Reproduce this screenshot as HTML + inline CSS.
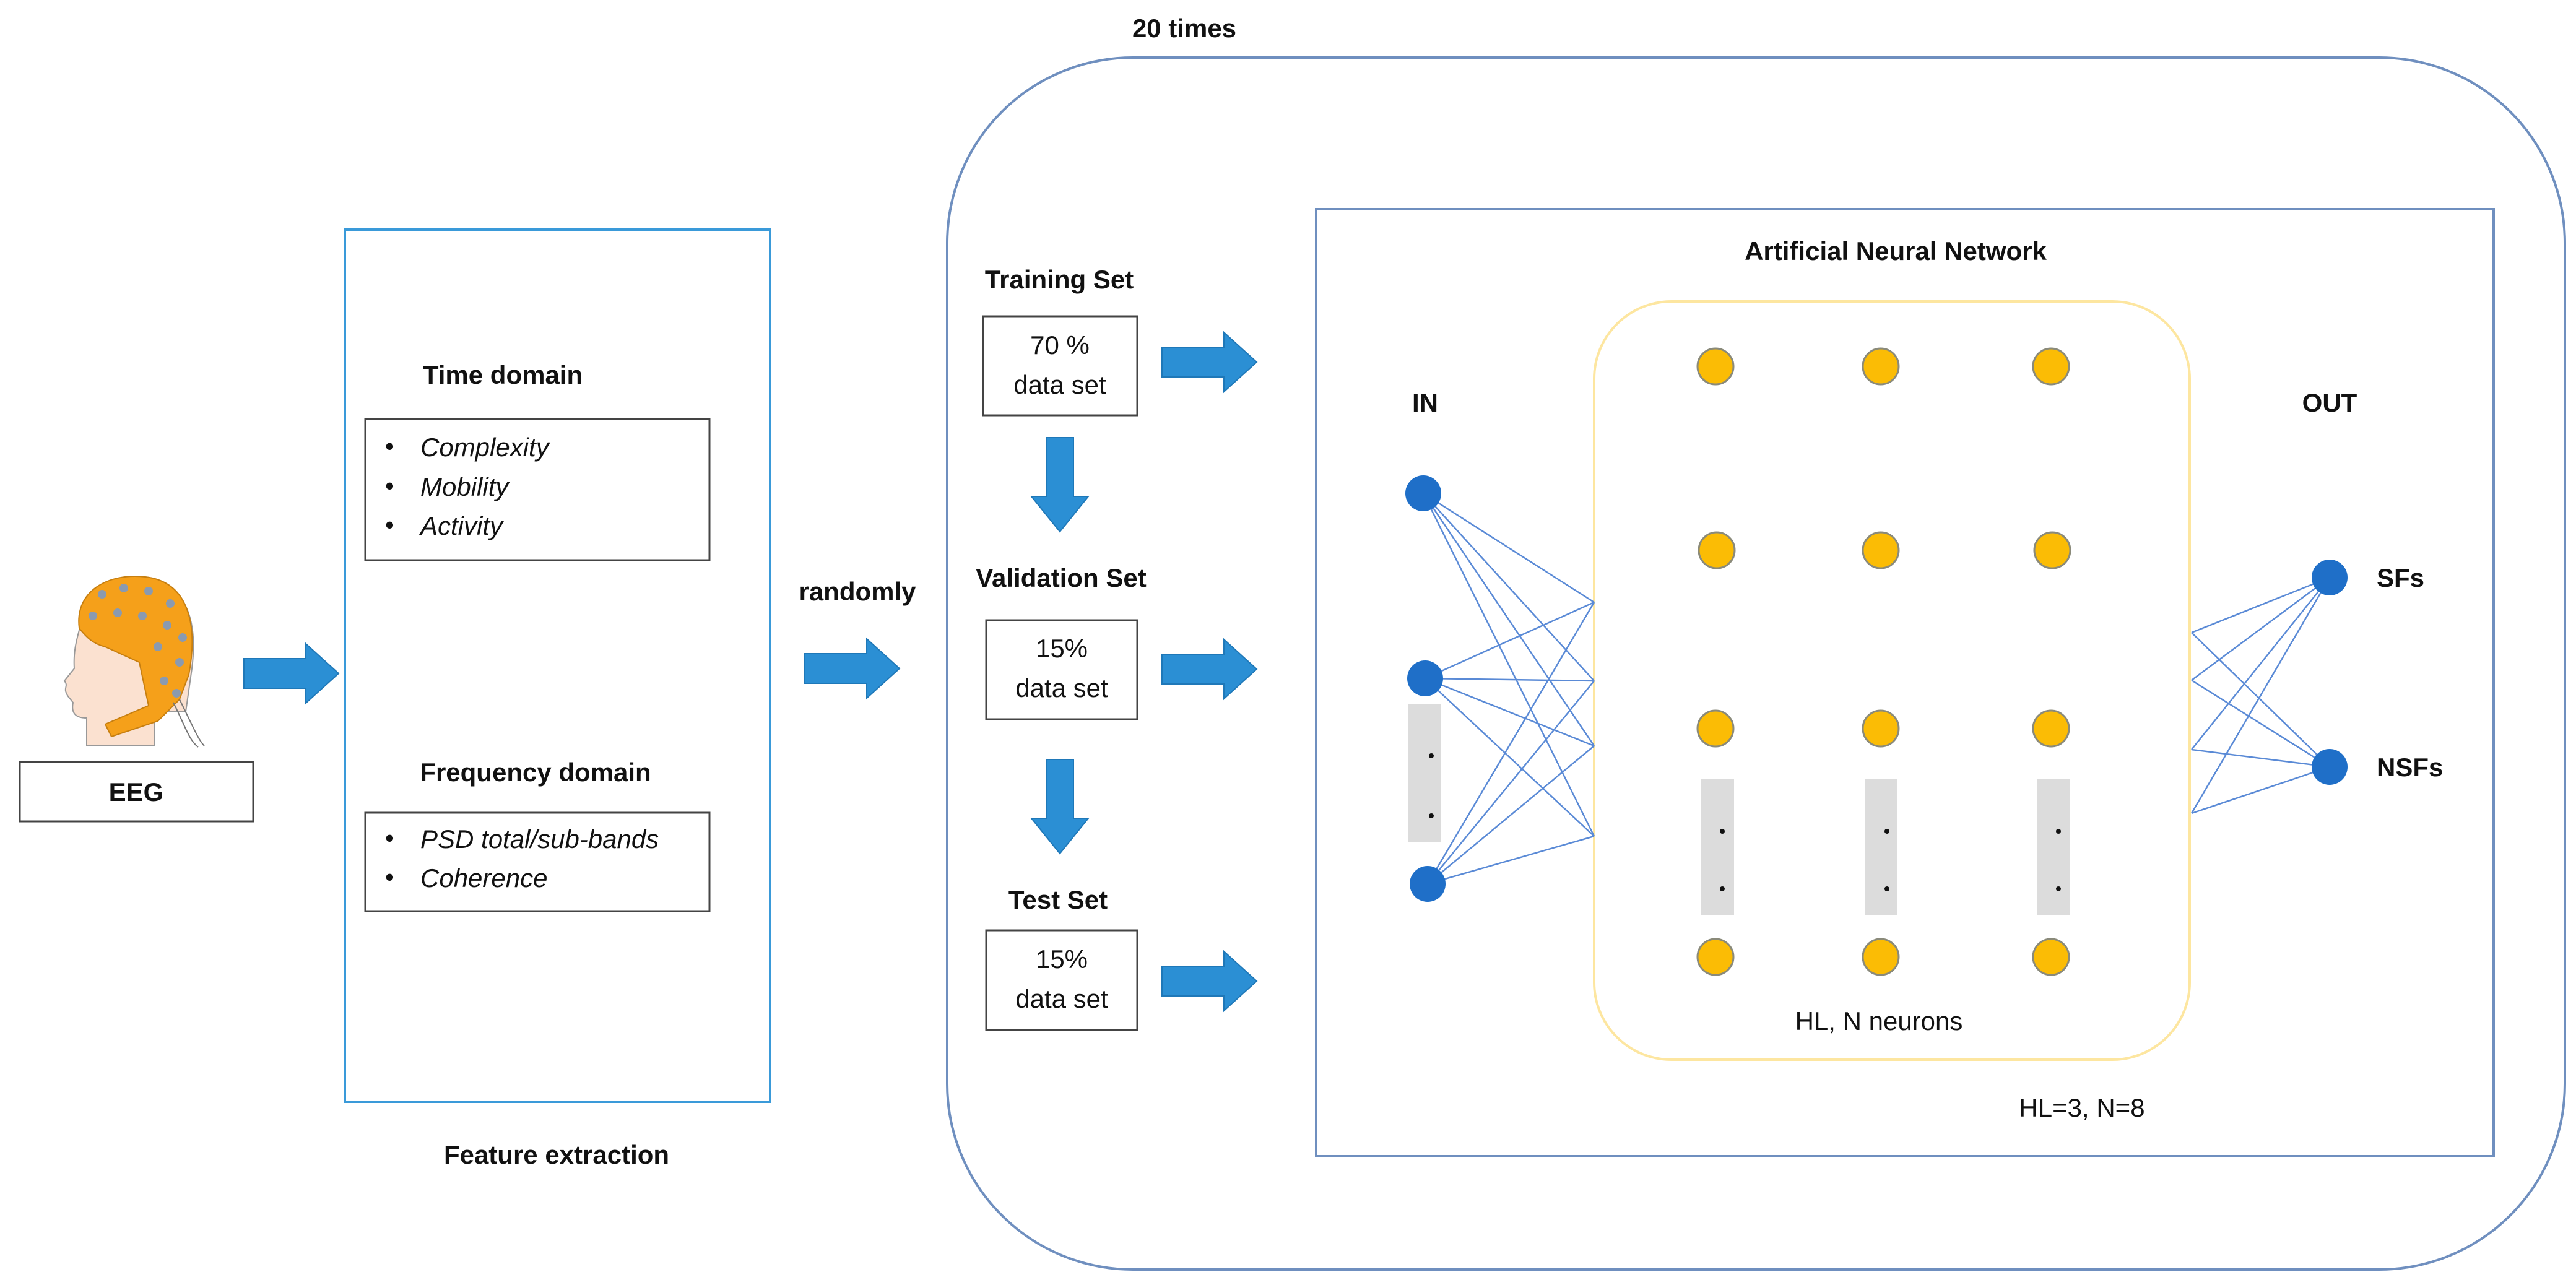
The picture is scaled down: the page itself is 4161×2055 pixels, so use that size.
<!DOCTYPE html>
<html><head><meta charset="utf-8"><style>
html,body{margin:0;padding:0;background:#fff;}
svg{display:block;}
text{font-family:"Liberation Sans",sans-serif;fill:#111;}
.b{font-weight:bold;font-size:42px;}
.n{font-size:42px;}
.i{font-style:italic;font-size:42px;}
</style></head><body>
<svg width="4161" height="2055" viewBox="0 0 4161 2055" xmlns="http://www.w3.org/2000/svg">
<defs>
<g id="ra"><polygon points="0,-24 100,-24 100,-48 153,0 100,48 100,24 0,24" fill="#2b8fd4" stroke="#1f78b8" stroke-width="2"/></g>
<g id="da"><polygon points="-22,0 22,0 22,95 46,95 0,152 -46,95 -22,95" fill="#2b8fd4" stroke="#1f78b8" stroke-width="2"/></g>
</defs>

<!-- head -->
<g>
<path d="M130,1010 C120,960 170,930 230,935 C300,940 320,1000 310,1080 L300,1150 L250,1150 L250,1205 L140,1205 L140,1160 C120,1160 115,1150 118,1135 L110,1125 C100,1110 112,1110 104,1100 L120,1080 C118,1050 125,1030 130,1010 Z" fill="#fbe1d0" stroke="#999" stroke-width="2"/>
<path d="M128,1015 C120,955 175,925 235,932 C305,940 320,1010 305,1090 L290,1130 L255,1165 L180,1190 L170,1170 L240,1140 L225,1070 L170,1045 C150,1040 140,1030 128,1015 Z" fill="#f5a01a" stroke="#c77f10" stroke-width="2"/>
<g fill="#8a9ab0">
<circle cx="165" cy="960" r="7"/><circle cx="200" cy="950" r="7"/><circle cx="240" cy="955" r="7"/><circle cx="275" cy="975" r="7"/>
<circle cx="150" cy="995" r="7"/><circle cx="190" cy="990" r="7"/><circle cx="230" cy="995" r="7"/><circle cx="270" cy="1010" r="7"/><circle cx="295" cy="1030" r="7"/>
<circle cx="255" cy="1045" r="7"/><circle cx="290" cy="1070" r="7"/><circle cx="265" cy="1100" r="7"/><circle cx="285" cy="1120" r="7"/>
</g>
<path d="M290,1130 C310,1170 320,1195 330,1205 M280,1135 C300,1175 305,1195 320,1207" stroke="#777" fill="none" stroke-width="2"/>
<rect x="32" y="1231" width="377" height="96" fill="#fff" stroke="#444" stroke-width="3"/>
<text class="b" x="220" y="1294" text-anchor="middle">EEG</text>
</g>

<use href="#ra" x="394" y="1088"/>

<!-- feature extraction box -->
<rect x="557" y="371" width="687" height="1409" fill="none" stroke="#3a9ad9" stroke-width="4"/>
<text class="b" x="812" y="620" text-anchor="middle">Time domain</text>
<rect x="590" y="677" width="556" height="228" fill="none" stroke="#444" stroke-width="3"/>
<text class="n" x="622" y="735">•</text><text class="i" x="679" y="737">Complexity</text>
<text class="n" x="622" y="799">•</text><text class="i" x="679" y="801">Mobility</text>
<text class="n" x="622" y="862">•</text><text class="i" x="679" y="864">Activity</text>
<text class="b" x="865" y="1262" text-anchor="middle">Frequency domain</text>
<rect x="590" y="1313" width="556" height="159" fill="none" stroke="#444" stroke-width="3"/>
<text class="n" x="622" y="1368">•</text><text class="i" x="679" y="1370">PSD total/sub-bands</text>
<text class="n" x="622" y="1431">•</text><text class="i" x="679" y="1433">Coherence</text>
<text class="b" x="899" y="1880" text-anchor="middle">Feature extraction</text>

<text class="b" x="1385" y="970" text-anchor="middle">randomly</text>
<use href="#ra" x="1300" y="1080"/>

<!-- 20 times rounded -->
<text class="b" x="1913" y="60" text-anchor="middle">20 times</text>
<rect x="1530" y="93" width="2613" height="1958" rx="300" ry="300" fill="none" stroke="#6f8fbf" stroke-width="4"/>

<text class="b" x="1711" y="466" text-anchor="middle">Training Set</text>
<rect x="1588" y="511" width="249" height="160" fill="none" stroke="#444" stroke-width="3"/>
<text class="n" x="1712" y="572" text-anchor="middle">70 %</text>
<text class="n" x="1712" y="636" text-anchor="middle">data set</text>
<use href="#ra" x="1877" y="585"/>
<use href="#da" x="1712" y="707"/>

<text class="b" x="1714" y="948" text-anchor="middle">Validation Set</text>
<rect x="1593" y="1002" width="244" height="160" fill="none" stroke="#444" stroke-width="3"/>
<text class="n" x="1715" y="1062" text-anchor="middle">15%</text>
<text class="n" x="1715" y="1126" text-anchor="middle">data set</text>
<use href="#ra" x="1877" y="1081"/>
<use href="#da" x="1712" y="1227"/>

<text class="b" x="1709" y="1468" text-anchor="middle">Test Set</text>
<rect x="1593" y="1503" width="244" height="161" fill="none" stroke="#444" stroke-width="3"/>
<text class="n" x="1715" y="1564" text-anchor="middle">15%</text>
<text class="n" x="1715" y="1628" text-anchor="middle">data set</text>
<use href="#ra" x="1877" y="1585"/>

<!-- ANN -->
<rect x="2126" y="338" width="1902" height="1530" fill="none" stroke="#6f8fbf" stroke-width="4"/>
<text class="b" x="3062" y="420" text-anchor="middle">Artificial Neural Network</text>
<rect x="2575" y="487" width="962" height="1225" rx="125" ry="125" fill="none" stroke="#fde6a0" stroke-width="4"/>

<g stroke="#5a8ad6" stroke-width="2.5">
<line x1="2299" y1="797" x2="2575" y2="973"/><line x1="2299" y1="797" x2="2575" y2="1100"/><line x1="2299" y1="797" x2="2575" y2="1205"/><line x1="2299" y1="797" x2="2575" y2="1351"/>
<line x1="2302" y1="1096" x2="2575" y2="973"/><line x1="2302" y1="1096" x2="2575" y2="1100"/><line x1="2302" y1="1096" x2="2575" y2="1205"/><line x1="2302" y1="1096" x2="2575" y2="1351"/>
<line x1="2306" y1="1428" x2="2575" y2="973"/><line x1="2306" y1="1428" x2="2575" y2="1100"/><line x1="2306" y1="1428" x2="2575" y2="1205"/><line x1="2306" y1="1428" x2="2575" y2="1351"/>
<line x1="3540" y1="1022" x2="3763" y2="933"/><line x1="3540" y1="1099" x2="3763" y2="933"/><line x1="3540" y1="1211" x2="3763" y2="933"/><line x1="3540" y1="1314" x2="3763" y2="933"/>
<line x1="3540" y1="1022" x2="3763" y2="1239"/><line x1="3540" y1="1099" x2="3763" y2="1239"/><line x1="3540" y1="1211" x2="3763" y2="1239"/><line x1="3540" y1="1314" x2="3763" y2="1239"/>
</g>

<text class="b" x="2302" y="665" text-anchor="middle">IN</text>
<text class="b" x="3763" y="665" text-anchor="middle">OUT</text>
<g fill="#1f6fc8">
<circle cx="2299" cy="797" r="29"/><circle cx="2302" cy="1096" r="29"/><circle cx="2306" cy="1428" r="29"/>
<circle cx="3763" cy="933" r="29"/><circle cx="3763" cy="1239" r="29"/>
</g>
<text class="b" x="3839" y="948">SFs</text>
<text class="b" x="3839" y="1254">NSFs</text>

<g fill="#dcdcdc">
<rect x="2275" y="1137" width="53" height="223"/>
<rect x="2748" y="1258" width="53" height="221"/>
<rect x="3012" y="1258" width="53" height="221"/>
<rect x="3290" y="1258" width="53" height="221"/>
</g>
<g fill="#111">
<circle cx="2312" cy="1221" r="4"/><circle cx="2312" cy="1318" r="4"/>
<circle cx="2782" cy="1343" r="4"/><circle cx="2782" cy="1436" r="4"/>
<circle cx="3048" cy="1343" r="4"/><circle cx="3048" cy="1436" r="4"/>
<circle cx="3325" cy="1343" r="4"/><circle cx="3325" cy="1436" r="4"/>
</g>
<g fill="#fbbc05" stroke="#8a8a7a" stroke-width="3">
<circle cx="2771" cy="592" r="29"/><circle cx="3038" cy="592" r="29"/><circle cx="3313" cy="592" r="29"/>
<circle cx="2773" cy="889" r="29"/><circle cx="3038" cy="889" r="29"/><circle cx="3315" cy="889" r="29"/>
<circle cx="2771" cy="1177" r="29"/><circle cx="3038" cy="1177" r="29"/><circle cx="3313" cy="1177" r="29"/>
<circle cx="2771" cy="1546" r="29"/><circle cx="3038" cy="1546" r="29"/><circle cx="3313" cy="1546" r="29"/>
</g>
<text class="n" x="3035" y="1664" text-anchor="middle">HL, N neurons</text>
<text class="n" x="3363" y="1804" text-anchor="middle">HL=3, N=8</text>
</svg>
</body></html>
